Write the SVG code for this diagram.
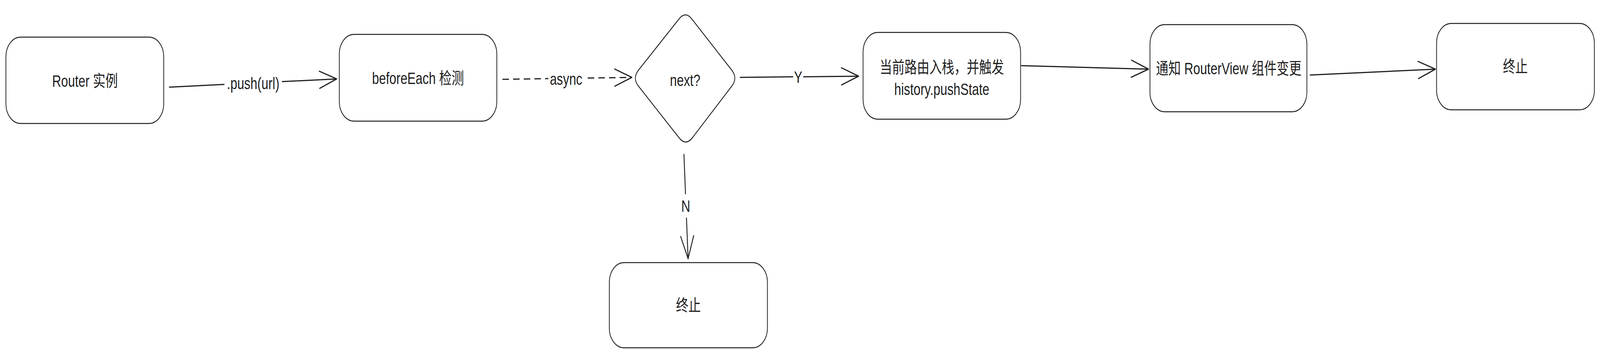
<svg xmlns="http://www.w3.org/2000/svg" width="5404" height="911" viewBox="0 0 5404 911" preserveAspectRatio="none">
<style>
svg{max-width:100vw;max-height:100vh}
.node{fill:#ffffff;stroke:#1e1e1e;stroke-width:2.5;stroke-linejoin:round}
.lbl{font-family:"Liberation Sans","Noto Sans CJK SC",sans-serif;font-size:42px;fill:#1e1e1e;text-anchor:middle;dominant-baseline:central}
.edge{fill:none;stroke:#1e1e1e;stroke-width:3;stroke-linecap:round}
.dash{stroke-dasharray:22 14;stroke-linecap:butt}
.bg{fill:#ffffff;stroke:none}
</style>
<defs>
<marker id="arr" viewBox="-70 -35 80 70" refX="0" refY="0" markerWidth="80" markerHeight="70" markerUnits="userSpaceOnUse" orient="auto" overflow="visible">
<path d="M -58 -22 L 0 0 L -58 22" fill="none" stroke="#1e1e1e" stroke-width="3" stroke-linecap="round" stroke-linejoin="round"/>
</marker>
</defs>
<rect width="5404" height="911" fill="#ffffff"/>
<g id="connectors">
<g id="e-push">
<path class="edge" d="M 572 223 L 1137 202" marker-end="url(#arr)"/>
<rect class="bg" x="758" y="190" width="194" height="50"/>
<text class="lbl" x="855" y="213">.push(url)</text>
</g>
<g id="e-async">
<path class="edge dash" d="M 1697 203 L 2134 198" marker-end="url(#arr)"/>
<rect class="bg" x="1852" y="180" width="120" height="46"/>
<text class="lbl" x="1912" y="202">async</text>
</g>
<g id="e-yes">
<path class="edge" d="M 2500 198 L 2900 195" marker-end="url(#arr)"/>
<rect class="bg" x="2679" y="175" width="34" height="46"/>
<text class="lbl" x="2696" y="197">Y</text>
</g>
<g id="e-no">
<path class="edge" d="M 2310 395 L 2324 662" marker-end="url(#arr)"/>
<rect class="bg" x="2295" y="497" width="42" height="60"/>
<text class="lbl" x="2316" y="527">N</text>
</g>
<g id="e-notify">
<path class="edge" d="M 3450 168 L 3879 177" marker-end="url(#arr)"/>
</g>
<g id="e-end">
<path class="edge" d="M 4425 192 L 4848 177" marker-end="url(#arr)"/>
</g>
</g>
<g id="n-router">
<rect class="node" x="20" y="95" width="533" height="221" rx="50" ry="50"/>
<text class="lbl" x="287" y="207">Router 实例</text>
</g>
<g id="n-beforeeach">
<rect class="node" x="1146" y="88" width="532" height="222" rx="50" ry="50"/>
<text class="lbl" x="1412" y="200">beforeEach 检测</text>
</g>
<g id="n-next">
<path class="node" d="M 2294 48 Q 2315 28 2336 48 L 2471 179 Q 2493 200 2471 221 L 2338 353 Q 2316 374 2294 353 L 2157 221 Q 2135 200 2157 179 Z"/>
<text class="lbl" x="2314" y="205">next?</text>
</g>
<g id="n-push">
<rect class="node" x="2915" y="83" width="532" height="222" rx="50" ry="50"/>
<text class="lbl" x="3181" y="172">当前路由入栈，并触发</text>
<text class="lbl" x="3181" y="228">history.pushState</text>
</g>
<g id="n-notify">
<rect class="node" x="3884" y="63" width="530" height="223" rx="50" ry="50"/>
<text class="lbl" x="4150" y="175">通知 RouterView 组件变更</text>
</g>
<g id="n-end1">
<rect class="node" x="4852" y="60" width="533" height="221" rx="50" ry="50"/>
<text class="lbl" x="5118" y="170">终止</text>
</g>
<g id="n-end2">
<rect class="node" x="2058" y="672" width="534" height="218" rx="50" ry="50"/>
<text class="lbl" x="2325" y="781">终止</text>
</g>
</svg>
